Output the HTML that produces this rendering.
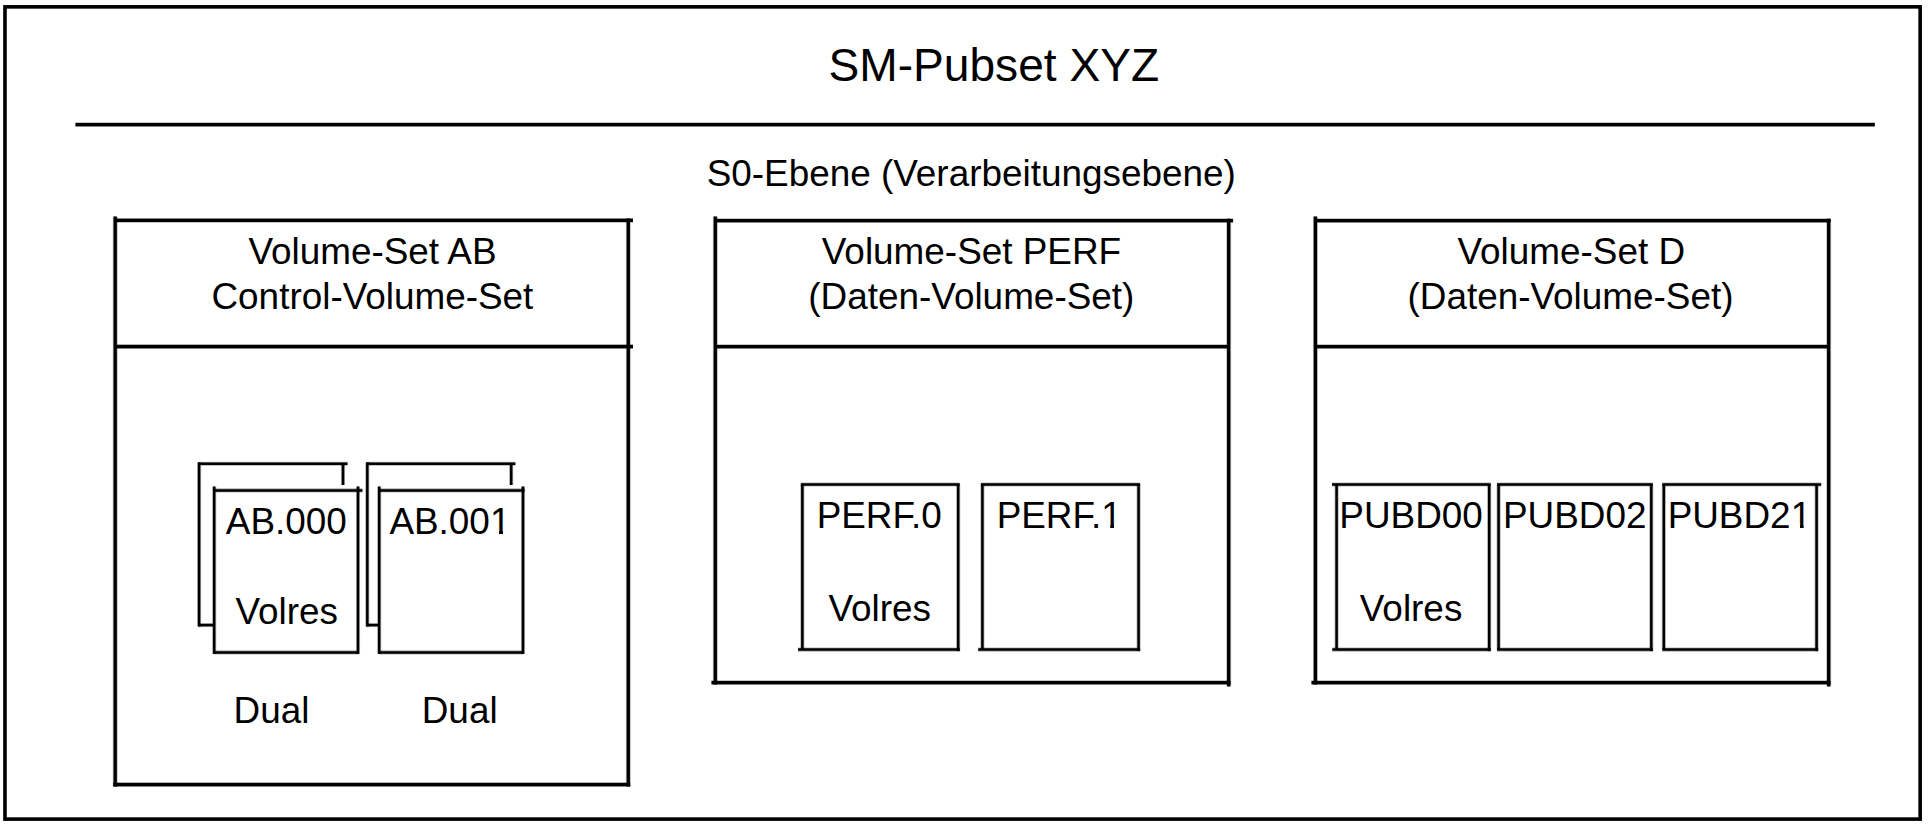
<!DOCTYPE html><html><head><meta charset="utf-8"><title>SM-Pubset XYZ</title><style>html,body{margin:0;padding:0;background:#fff;width:1928px;height:826px;overflow:hidden}svg{display:block}text{font-family:"Liberation Sans",sans-serif;fill:#000}</style></head><body>
<svg width="1928" height="826" viewBox="0 0 1928 826">
<rect x="0" y="0" width="1928" height="826" fill="#fff"/>
<g>
<rect x="4.97" y="6.85" width="1915.18" height="812.25" fill="none" stroke="#000" stroke-width="3.6"/>
<g stroke="#000" fill="none" stroke-linecap="butt" stroke-opacity="0.3">
<line x1="75.50" y1="124.60" x2="1874.80" y2="124.60" stroke-width="4.90"/>
<line x1="115.20" y1="216.50" x2="115.20" y2="786.38" stroke-width="4.85"/>
<line x1="115.20" y1="220.40" x2="633.00" y2="220.40" stroke-width="4.85"/>
<line x1="628.30" y1="218.53" x2="628.30" y2="786.38" stroke-width="4.85"/>
<line x1="115.20" y1="346.50" x2="633.00" y2="346.50" stroke-width="4.85"/>
<line x1="113.33" y1="784.50" x2="630.17" y2="784.50" stroke-width="4.85"/>
<line x1="715.30" y1="216.50" x2="715.30" y2="684.48" stroke-width="4.85"/>
<line x1="715.30" y1="220.60" x2="1233.10" y2="220.60" stroke-width="4.85"/>
<line x1="1228.70" y1="218.72" x2="1228.70" y2="686.40" stroke-width="4.85"/>
<line x1="715.30" y1="346.60" x2="1228.70" y2="346.60" stroke-width="4.85"/>
<line x1="711.50" y1="682.60" x2="1230.58" y2="682.60" stroke-width="4.85"/>
<line x1="1315.40" y1="216.50" x2="1315.40" y2="684.48" stroke-width="4.85"/>
<line x1="1315.40" y1="220.60" x2="1830.58" y2="220.60" stroke-width="4.85"/>
<line x1="1828.70" y1="218.72" x2="1828.70" y2="686.40" stroke-width="4.85"/>
<line x1="1315.40" y1="346.60" x2="1828.70" y2="346.60" stroke-width="4.85"/>
<line x1="1311.50" y1="682.60" x2="1830.58" y2="682.60" stroke-width="4.85"/>
<line x1="199.10" y1="463.80" x2="347.50" y2="463.80" stroke-width="4.10"/>
<line x1="199.10" y1="462.30" x2="199.10" y2="626.60" stroke-width="4.10"/>
<line x1="343.00" y1="463.80" x2="343.00" y2="485.00" stroke-width="4.10"/>
<line x1="199.10" y1="625.10" x2="214.20" y2="625.10" stroke-width="4.10"/>
<line x1="214.20" y1="486.50" x2="214.20" y2="653.90" stroke-width="4.10"/>
<line x1="214.20" y1="490.40" x2="362.40" y2="490.40" stroke-width="4.10"/>
<line x1="358.00" y1="486.50" x2="358.00" y2="653.90" stroke-width="4.10"/>
<line x1="214.20" y1="652.40" x2="358.00" y2="652.40" stroke-width="4.10"/>
<line x1="367.30" y1="463.80" x2="515.40" y2="463.80" stroke-width="4.10"/>
<line x1="367.30" y1="462.30" x2="367.30" y2="626.60" stroke-width="4.10"/>
<line x1="511.20" y1="463.80" x2="511.20" y2="485.00" stroke-width="4.10"/>
<line x1="367.30" y1="625.10" x2="379.20" y2="625.10" stroke-width="4.10"/>
<line x1="379.20" y1="486.50" x2="379.20" y2="653.90" stroke-width="4.10"/>
<line x1="379.20" y1="490.40" x2="524.50" y2="490.40" stroke-width="4.10"/>
<line x1="523.00" y1="486.50" x2="523.00" y2="653.90" stroke-width="4.10"/>
<line x1="379.20" y1="652.40" x2="523.00" y2="652.40" stroke-width="4.10"/>
<line x1="800.85" y1="484.50" x2="959.70" y2="484.50" stroke-width="4.10"/>
<line x1="802.35" y1="484.50" x2="802.35" y2="649.60" stroke-width="4.10"/>
<line x1="958.20" y1="484.50" x2="958.20" y2="651.10" stroke-width="4.10"/>
<line x1="798.00" y1="649.60" x2="959.70" y2="649.60" stroke-width="4.10"/>
<line x1="980.90" y1="484.50" x2="1140.10" y2="484.50" stroke-width="4.10"/>
<line x1="982.40" y1="484.50" x2="982.40" y2="649.60" stroke-width="4.10"/>
<line x1="1138.60" y1="484.50" x2="1138.60" y2="651.10" stroke-width="4.10"/>
<line x1="978.20" y1="649.60" x2="1140.10" y2="649.60" stroke-width="4.10"/>
<line x1="1332.00" y1="484.50" x2="1490.70" y2="484.50" stroke-width="4.10"/>
<line x1="1336.60" y1="484.50" x2="1336.60" y2="649.60" stroke-width="4.10"/>
<line x1="1489.20" y1="484.50" x2="1489.20" y2="651.10" stroke-width="4.10"/>
<line x1="1332.30" y1="649.60" x2="1490.70" y2="649.60" stroke-width="4.10"/>
<line x1="1497.10" y1="484.50" x2="1652.80" y2="484.50" stroke-width="4.10"/>
<line x1="1498.60" y1="484.50" x2="1498.60" y2="649.60" stroke-width="4.10"/>
<line x1="1651.30" y1="484.50" x2="1651.30" y2="651.10" stroke-width="4.10"/>
<line x1="1497.10" y1="649.60" x2="1652.80" y2="649.60" stroke-width="4.10"/>
<line x1="1662.30" y1="484.50" x2="1821.20" y2="484.50" stroke-width="4.10"/>
<line x1="1663.80" y1="484.50" x2="1663.80" y2="649.60" stroke-width="4.10"/>
<line x1="1816.60" y1="484.50" x2="1816.60" y2="651.10" stroke-width="4.10"/>
<line x1="1662.30" y1="649.60" x2="1818.10" y2="649.60" stroke-width="4.10"/>
</g>
<g stroke="#000" fill="none" stroke-linecap="butt">
<line x1="75.50" y1="124.60" x2="1874.80" y2="124.60" stroke-width="3.30"/>
<line x1="115.20" y1="216.50" x2="115.20" y2="786.38" stroke-width="3.25"/>
<line x1="115.20" y1="220.40" x2="633.00" y2="220.40" stroke-width="3.25"/>
<line x1="628.30" y1="218.53" x2="628.30" y2="786.38" stroke-width="3.25"/>
<line x1="115.20" y1="346.50" x2="633.00" y2="346.50" stroke-width="3.25"/>
<line x1="113.33" y1="784.50" x2="630.17" y2="784.50" stroke-width="3.25"/>
<line x1="715.30" y1="216.50" x2="715.30" y2="684.48" stroke-width="3.25"/>
<line x1="715.30" y1="220.60" x2="1233.10" y2="220.60" stroke-width="3.25"/>
<line x1="1228.70" y1="218.72" x2="1228.70" y2="686.40" stroke-width="3.25"/>
<line x1="715.30" y1="346.60" x2="1228.70" y2="346.60" stroke-width="3.25"/>
<line x1="711.50" y1="682.60" x2="1230.58" y2="682.60" stroke-width="3.25"/>
<line x1="1315.40" y1="216.50" x2="1315.40" y2="684.48" stroke-width="3.25"/>
<line x1="1315.40" y1="220.60" x2="1830.58" y2="220.60" stroke-width="3.25"/>
<line x1="1828.70" y1="218.72" x2="1828.70" y2="686.40" stroke-width="3.25"/>
<line x1="1315.40" y1="346.60" x2="1828.70" y2="346.60" stroke-width="3.25"/>
<line x1="1311.50" y1="682.60" x2="1830.58" y2="682.60" stroke-width="3.25"/>
<line x1="199.10" y1="463.80" x2="347.50" y2="463.80" stroke-width="2.50"/>
<line x1="199.10" y1="462.30" x2="199.10" y2="626.60" stroke-width="2.50"/>
<line x1="343.00" y1="463.80" x2="343.00" y2="485.00" stroke-width="2.50"/>
<line x1="199.10" y1="625.10" x2="214.20" y2="625.10" stroke-width="2.50"/>
<line x1="214.20" y1="486.50" x2="214.20" y2="653.90" stroke-width="2.50"/>
<line x1="214.20" y1="490.40" x2="362.40" y2="490.40" stroke-width="2.50"/>
<line x1="358.00" y1="486.50" x2="358.00" y2="653.90" stroke-width="2.50"/>
<line x1="214.20" y1="652.40" x2="358.00" y2="652.40" stroke-width="2.50"/>
<line x1="367.30" y1="463.80" x2="515.40" y2="463.80" stroke-width="2.50"/>
<line x1="367.30" y1="462.30" x2="367.30" y2="626.60" stroke-width="2.50"/>
<line x1="511.20" y1="463.80" x2="511.20" y2="485.00" stroke-width="2.50"/>
<line x1="367.30" y1="625.10" x2="379.20" y2="625.10" stroke-width="2.50"/>
<line x1="379.20" y1="486.50" x2="379.20" y2="653.90" stroke-width="2.50"/>
<line x1="379.20" y1="490.40" x2="524.50" y2="490.40" stroke-width="2.50"/>
<line x1="523.00" y1="486.50" x2="523.00" y2="653.90" stroke-width="2.50"/>
<line x1="379.20" y1="652.40" x2="523.00" y2="652.40" stroke-width="2.50"/>
<line x1="800.85" y1="484.50" x2="959.70" y2="484.50" stroke-width="2.50"/>
<line x1="802.35" y1="484.50" x2="802.35" y2="649.60" stroke-width="2.50"/>
<line x1="958.20" y1="484.50" x2="958.20" y2="651.10" stroke-width="2.50"/>
<line x1="798.00" y1="649.60" x2="959.70" y2="649.60" stroke-width="2.50"/>
<line x1="980.90" y1="484.50" x2="1140.10" y2="484.50" stroke-width="2.50"/>
<line x1="982.40" y1="484.50" x2="982.40" y2="649.60" stroke-width="2.50"/>
<line x1="1138.60" y1="484.50" x2="1138.60" y2="651.10" stroke-width="2.50"/>
<line x1="978.20" y1="649.60" x2="1140.10" y2="649.60" stroke-width="2.50"/>
<line x1="1332.00" y1="484.50" x2="1490.70" y2="484.50" stroke-width="2.50"/>
<line x1="1336.60" y1="484.50" x2="1336.60" y2="649.60" stroke-width="2.50"/>
<line x1="1489.20" y1="484.50" x2="1489.20" y2="651.10" stroke-width="2.50"/>
<line x1="1332.30" y1="649.60" x2="1490.70" y2="649.60" stroke-width="2.50"/>
<line x1="1497.10" y1="484.50" x2="1652.80" y2="484.50" stroke-width="2.50"/>
<line x1="1498.60" y1="484.50" x2="1498.60" y2="649.60" stroke-width="2.50"/>
<line x1="1651.30" y1="484.50" x2="1651.30" y2="651.10" stroke-width="2.50"/>
<line x1="1497.10" y1="649.60" x2="1652.80" y2="649.60" stroke-width="2.50"/>
<line x1="1662.30" y1="484.50" x2="1821.20" y2="484.50" stroke-width="2.50"/>
<line x1="1663.80" y1="484.50" x2="1663.80" y2="649.60" stroke-width="2.50"/>
<line x1="1816.60" y1="484.50" x2="1816.60" y2="651.10" stroke-width="2.50"/>
<line x1="1662.30" y1="649.60" x2="1818.10" y2="649.60" stroke-width="2.50"/>
</g>
<text x="828.60" y="81.10" font-size="46.1">SM-Pubset XYZ</text>
<text x="706.65" y="186.00" font-size="36.9">S0-Ebene (Verarbeitungsebene)</text>
<text x="248.40" y="263.70" font-size="36.9">Volume-Set AB</text>
<text x="211.46" y="308.50" font-size="36.9">Control-Volume-Set</text>
<text x="821.80" y="263.70" font-size="36.9">Volume-Set PERF</text>
<text x="808.33" y="308.50" font-size="36.9">(Daten-Volume-Set)</text>
<text x="1457.50" y="263.70" font-size="36.9">Volume-Set D</text>
<text x="1407.53" y="308.50" font-size="36.9">(Daten-Volume-Set)</text>
<text x="225.80" y="533.80" font-size="36.9">AB.000</text>
<text x="235.50" y="623.90" font-size="36.9">Volres</text>
<text x="389.40" y="533.80" font-size="36.9">AB.001</text>
<text x="233.53" y="722.80" font-size="36.9">Dual</text>
<text x="421.73" y="722.80" font-size="36.9">Dual</text>
<text x="816.63" y="528.10" font-size="36.9">PERF.0</text>
<text x="828.40" y="621.00" font-size="36.9">Volres</text>
<text x="996.63" y="528.10" font-size="36.9">PERF.1</text>
<text x="1339.33" y="527.80" font-size="36.9">PUBD00</text>
<text x="1359.80" y="621.00" font-size="36.9">Volres</text>
<text x="1503.03" y="527.80" font-size="36.9">PUBD02</text>
<text x="1667.63" y="527.80" font-size="36.9">PUBD21</text>
<rect x="491.0" y="530.6" width="8.00" height="4.00" fill="#fff"/>
<rect x="503.0" y="530.6" width="8.00" height="4.00" fill="#fff"/>
<rect x="1103.0" y="524.6" width="7.20" height="4.00" fill="#fff"/>
<rect x="1114.0" y="524.6" width="8.00" height="4.00" fill="#fff"/>
<rect x="1792.0" y="524.6" width="8.00" height="4.00" fill="#fff"/>
<rect x="1803.7" y="524.6" width="8.30" height="4.00" fill="#fff"/>
</g></svg></body></html>
